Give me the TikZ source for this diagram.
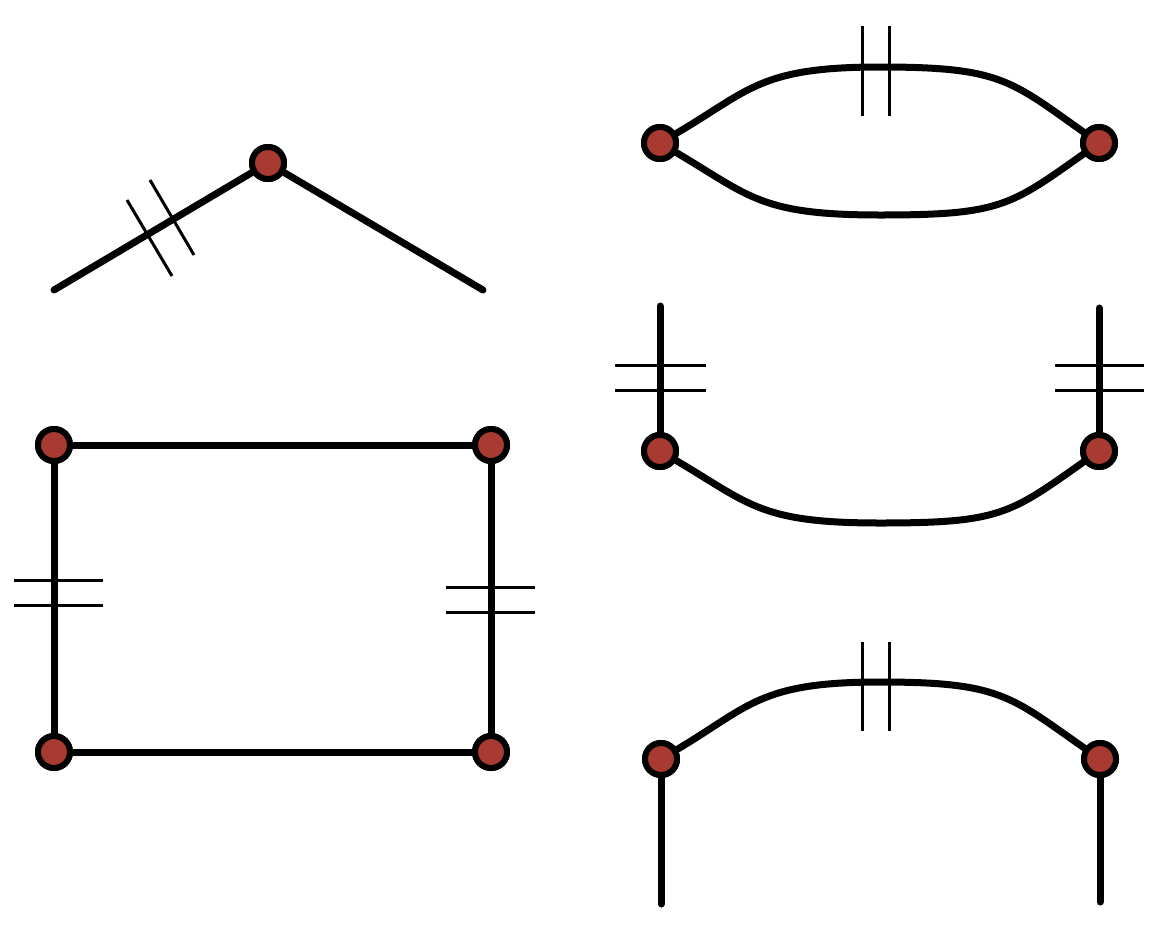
\documentclass[tikz,border=0pt]{standalone}
\begin{document}
\begin{tikzpicture}[x=1pt,y=-1pt,
  edge/.style={line width=7pt,line cap=round},
  tick/.style={line width=3pt},
  vtx/.style={circle,draw=black,line width=6pt,fill={rgb,255:red,168;green,58;blue,50},minimum size=32pt,inner sep=0pt}]
\useasboundingbox (0,0) rectangle (1162,927);
% top-left
\node[vtx] (a) at (268,163) {};
\coordinate (a1) at (54,290); \coordinate (a2) at (483,290);
\draw[edge] (a1) -- (a) -- (a2);
\draw[tick] (127,200) -- (172,276);
\draw[tick] (150,180) -- (194,255);
% rectangle
\node[vtx] (r1) at (54,445) {};
\node[vtx] (r2) at (491,445) {};
\node[vtx] (r3) at (54,752) {};
\node[vtx] (r4) at (491,752) {};
\draw[edge] (r1) -- (r2) -- (r4) -- (r3) -- (r1);
\draw[tick] (14,580) -- (103,580); \draw[tick] (14,605) -- (103,605);
\draw[tick] (446,587) -- (535,587); \draw[tick] (446,612) -- (535,612);
% top-right
\node[vtx] (b1) at (660,143) {};
\node[vtx] (b2) at (1099,143) {};
\draw[edge] (b1) .. controls (750,90) and (760,67) .. (880,67) .. controls (1000,67) and (1010,80) .. (b2);
\draw[edge] (b1) .. controls (750,196) and (760,215) .. (880,215) .. controls (1000,215) and (1010,206) .. (b2);
\draw[tick] (862,26) -- (862,116); \draw[tick] (889,26) -- (889,116);
% middle-right
\node[vtx] (c1) at (660,451) {};
\node[vtx] (c2) at (1099,451) {};
\coordinate (c1t) at (660,306); \coordinate (c2t) at (1099,308);
\draw[edge] (c1t) -- (c1); \draw[edge] (c2t) -- (c2);
\draw[edge] (c1) .. controls (750,504) and (760,523) .. (880,523) .. controls (1000,523) and (1010,514) .. (c2);
\draw[tick] (615,365) -- (706,365); \draw[tick] (615,390) -- (706,390);
\draw[tick] (1055,365) -- (1144,365); \draw[tick] (1055,390) -- (1144,390);
% bottom-right
\node[vtx] (d1) at (661,759) {};
\node[vtx] (d2) at (1100,759) {};
\coordinate (d1b) at (661,904); \coordinate (d2b) at (1100,902);
\draw[edge] (d1) -- (d1b); \draw[edge] (d2) -- (d2b);
\draw[edge] (d1) .. controls (750,706) and (760,682) .. (880,682) .. controls (1000,682) and (1010,696) .. (d2);
\draw[tick] (862,642) -- (862,731); \draw[tick] (889,642) -- (889,731);
% redraw vertices on top
\foreach \n in {a,r1,r2,r3,r4,b1,b2,c1,c2,d1,d2}
  \node[vtx] at (\n) {};
\end{tikzpicture}
\end{document}
